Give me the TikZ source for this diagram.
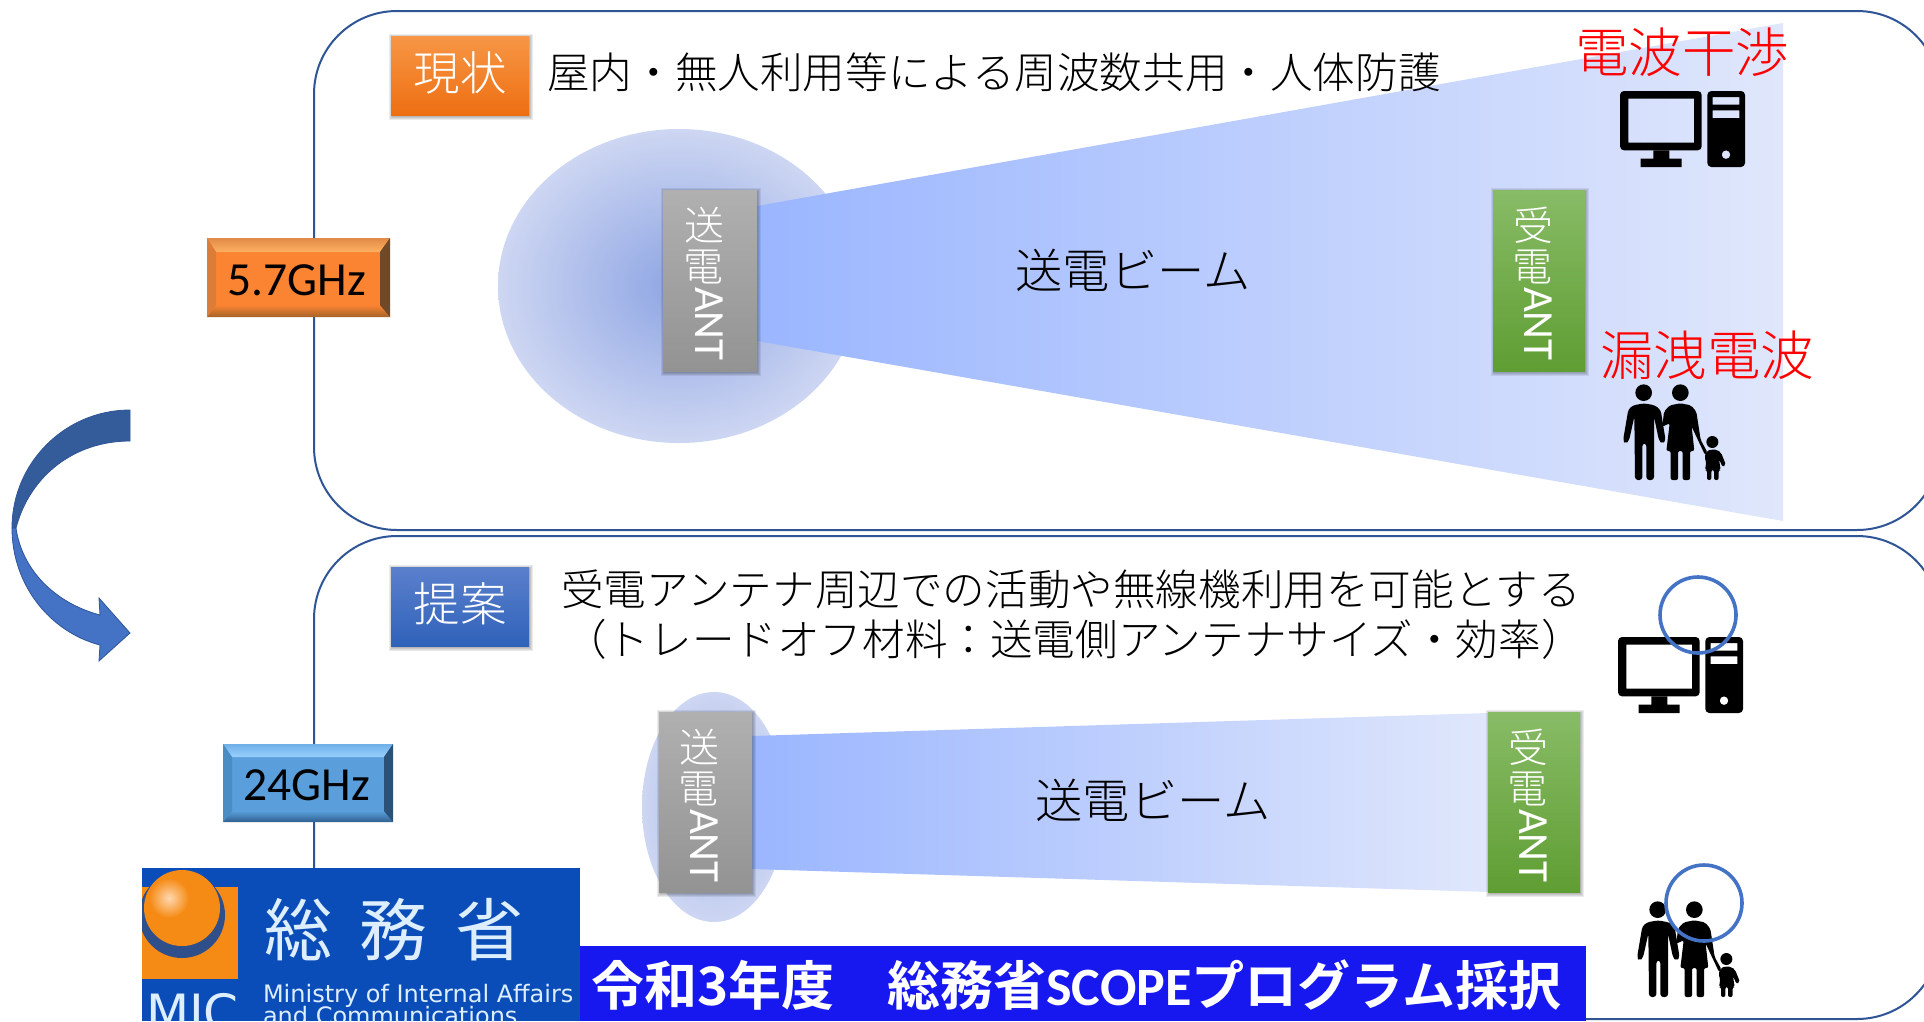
\documentclass[tikz,border=0pt]{standalone}
\usepackage{fontspec}
\setmainfont{Carlito}
\newfontfamily\jpl{Noto Sans CJK JP Light}
\newfontfamily\jpb{Noto Sans CJK JP Bold}
\newfontfamily\jpr{Noto Sans CJK JP}
\newfontfamily\logofont{DejaVu Sans}
\newcommand\fsz[1]{\fontsize{#1}{#1}\selectfont}
\newcommand\upr[1]{\makebox[41pt][c]{\raisebox{-6pt}{\rotatebox[origin=c]{90}{#1}}}}
\newcommand\anttext[1]{\jpl\fsz{40}\upr{#1}\upr{電}\rmfamily\fsz{43}ANT}
\newcommand\softshadow[4]{%
  \foreach \d in {1,2,3,4}{\fill[black,opacity=.08] (#1+2-\d,#2+2-\d) rectangle (#3+\d,#4+1+\d);}}
\definecolor{frame}{HTML}{2F5597}
\definecolor{beamL}{HTML}{9BB6FF}
\definecolor{beamR}{HTML}{E0E7FC}
\definecolor{accent}{HTML}{4472C4}
\definecolor{arrowback}{HTML}{355C9A}
\definecolor{ellA}{HTML}{8EA5E4}
\definecolor{ellB}{HTML}{CDD6F2}
\definecolor{ellC}{HTML}{A5B8EA}
\definecolor{greyA}{HTML}{B0B0B0}
\definecolor{greyB}{HTML}{939393}
\definecolor{greenA}{HTML}{88BB66}
\definecolor{greenB}{HTML}{5F9E33}
\definecolor{orA}{HTML}{F79646}
\definecolor{orB}{HTML}{EE6F12}
\definecolor{blA}{HTML}{5B80CC}
\definecolor{blB}{HTML}{2F62BA}
\definecolor{fOr}{HTML}{FB8432}
\definecolor{fOrT}{HTML}{E08A48}
\definecolor{fOrU}{HTML}{FFB060}
\definecolor{fOrD}{HTML}{A56328}
\definecolor{fOrR}{HTML}{6E4A2A}
\definecolor{fOrL}{HTML}{DB7C38}
\definecolor{fBl}{HTML}{5A9FDC}
\definecolor{fBlT}{HTML}{6FB0E8}
\definecolor{fBlU}{HTML}{99CFFF}
\definecolor{fBlD}{HTML}{2F5F8F}
\definecolor{fBlR}{HTML}{2A5278}
\definecolor{fBlL}{HTML}{4A8CC4}
\definecolor{logoB}{HTML}{0B4DB8}
\definecolor{logoO}{HTML}{F58A14}
\definecolor{logoH}{HTML}{FFD8B0}
\definecolor{logoD}{HTML}{2F4F8A}
\definecolor{logoT}{HTML}{DDEEFF}
\definecolor{strip}{HTML}{1717F0}
\tikzset{
  x=1pt,y=-1pt,
  panel/.style={draw=frame,line width=2pt,fill=white,rounded corners=83pt},
  lbl/.style={inner sep=0pt,outer sep=0pt,align=center,font=\jpl},
  redlbl/.style={lbl,text=red,font=\jpl\fsz{53.5}},
  marker/.style={draw=accent,line width=3.6pt},
  antlabel/.style={lbl,text=white,rotate=-90,anchor=base west},
  computer/.pic={
    \begin{scope}[scale=1/3]
    \fill[black,even odd rule] [rounded corners=4pt] (0,0) rectangle (245,178) [sharp corners] (25,23) rectangle (222,155);
    \fill[black] (100,178) rectangle (148,203) (62,203) rectangle (185,228);
    \fill[black,even odd rule] [rounded corners=4pt] (262,0) rectangle (375,228) [sharp corners] (278,18) rectangle (358,41) (278,58) rectangle (358,81) (318,191) circle (13);
    \end{scope}},
  family/.pic={
    \begin{scope}[scale=1/3,shift={(-232,-1052)}]
    \fill[black] (294,1078) circle (25) (404,1078) circle (25) (500,1226) circle (18);
    \fill[black,rounded corners=3pt] (295,1110) -- (262,1116) -- (248,1128) -- (232,1222) -- (240,1231) -- (250,1222) -- (266,1150) -- (268,1340) -- (290,1340) -- (290,1230) -- (302,1230) -- (302,1340) -- (325,1340) -- (325,1150) -- (340,1222) -- (350,1231) -- (360,1222) -- (345,1130) -- (328,1116) -- cycle;
    \fill[black,rounded corners=2pt] (404,1110) -- (372,1116) -- (355,1135) -- (350,1180) -- (372,1170) -- (362,1253) -- (375,1253) -- (375,1340) -- (397,1340) -- (397,1253) -- (411,1253) -- (411,1340) -- (433,1340) -- (433,1253) -- (446,1253) -- (438,1180) -- (478,1265) -- (486,1258) -- (465,1220) -- (452,1135) -- (436,1116) -- cycle;
    \fill[black,rounded corners=2pt] (500,1248) -- (484,1252) -- (476,1272) -- (482,1285) -- (478,1310) -- (484,1310) -- (484,1340) -- (497,1340) -- (497,1310) -- (505,1310) -- (505,1340) -- (519,1340) -- (519,1310) -- (525,1310) -- (520,1278) -- (531,1301) -- (541,1295) -- (526,1258) -- (515,1250) -- cycle;
    \end{scope}}
}
\begin{document}
\begin{tikzpicture}
\useasboundingbox (0,0) rectangle (1924,1021);
\clip (0,0) rectangle (1924,1021);
\fill[white] (0,0) rectangle (1924,1021);

% panels
\draw[panel] (314,11) rectangle (1940,530);
\draw[panel] (314,536) rectangle (1940,1019);

% curved arrow
\filldraw[fill=arrowback,draw=frame,line width=.8pt] (130,410) .. controls (65,410) and (12,463) .. (12,528) -- (16,528) .. controls (30,475) and (75,441) .. (130,441) -- cycle;
\filldraw[fill=accent,draw=frame,line width=.8pt] (12,528) .. controls (12,585) and (50,632) .. (100,645) -- (99,661) -- (130,633) -- (99,598) -- (100,615) .. controls (55,603) and (22,570) .. (16,528) -- cycle;

% top scene
\shade[inner color=ellA,outer color=ellB] (679,286) ellipse (181 and 157);
\shade[left color=beamL,right color=beamR] (757,206) -- (1783,23) -- (1783,521) -- (757,341) -- cycle;
\softshadow{663}{190}{757}{371}
\shade[top color=greyA,bottom color=greyB] (663,190) rectangle (757,371);
\softshadow{1493}{190}{1585}{371}
\shade[top color=greenA,bottom color=greenB] (1493,190) rectangle (1585,371);
\node[antlabel] (txant1) at (695,205) {\anttext{送}};
\node[antlabel] (rxant1) at (1524,205) {\anttext{受}};
\node[lbl,font=\jpl\fsz{47.3}] (beam1) at (1133,270) {送電ビーム};

\softshadow{391}{36}{529}{115}
\shade[top color=orA,bottom color=orB] (391,36) rectangle (529,115);
\node[lbl,text=white,font=\jpl\fsz{46.5}] (now) at (460,73) {現状};
\node[lbl,font=\jpl\fsz{42.6}] (nowtxt) at (994,72) {屋内・無人利用等による周波数共用・人体防護};
\node[redlbl] (interf) at (1682,52) {電波干渉};
\node[redlbl] (leak) at (1707,355) {漏洩電波};
\pic at (1620,91) {computer};
\pic at (1623,384) {family};

% freq labels
\fill[fOr] (207,238) rectangle (390,317);
\shade[top color=fOrT,bottom color=fOrU] (207,238) -- (390,238) -- (380,252) -- (216,252) -- cycle;
\shade[top color=fOr,bottom color=fOrD] (216,305) -- (380,305) -- (390,317) -- (207,317) -- cycle;
\fill[fOrR] (380,252) -- (390,238) -- (390,317) -- (380,305) -- cycle;
\fill[fOrL] (207,238) -- (216,252) -- (216,305) -- (207,317) -- cycle;
\node[lbl,font=\rmfamily\fsz{47.5}] (f57) at (297,280) {5.7GHz};

\fill[fBl] (223,744) rectangle (393,822);
\shade[top color=fBlT,bottom color=fBlU] (223,744) -- (393,744) -- (384,757) -- (232,757) -- cycle;
\shade[top color=fBl,bottom color=fBlD] (232,811) -- (384,811) -- (393,822) -- (223,822) -- cycle;
\fill[fBlR] (384,757) -- (393,744) -- (393,822) -- (384,811) -- cycle;
\fill[fBlL] (223,744) -- (232,757) -- (232,811) -- (223,822) -- cycle;
\node[lbl,font=\rmfamily\fsz{47.5}] (f24) at (307,785) {24GHz};

% bottom scene
\shade[inner color=ellC,outer color=ellB] (714,807) ellipse (72 and 115);
\shade[left color=beamL,right color=beamR] (752,736) -- (1488,713) -- (1488,892) -- (752,869) -- cycle;
\softshadow{659}{712}{752}{892}
\shade[top color=greyA,bottom color=greyB] (659,712) rectangle (752,892);
\softshadow{1488}{712}{1580}{892}
\shade[top color=greenA,bottom color=greenB] (1488,712) rectangle (1580,892);
\node[antlabel] (txant2) at (690,727) {\anttext{送}};
\node[antlabel] (rxant2) at (1519,727) {\anttext{受}};
\node[lbl,font=\jpl\fsz{47.3}] (beam2) at (1153,800) {送電ビーム};

\softshadow{391}{567}{529}{646}
\shade[top color=blA,bottom color=blB] (391,567) rectangle (529,646);
\node[lbl,text=white,font=\jpl\fsz{46.5}] (prop) at (460,604) {提案};
\node[lbl,font=\jpl\fsz{42.6}] (proptxt1) at (1071,589) {受電アンテナ周辺での活動や無線機利用を可能とする};
\node[lbl,font=\jpl\fsz{42.6}] (proptxt2) at (1074,639) {（トレードオフ材料：送電側アンテナサイズ・効率）};
\pic at (1618,637) {computer};
\pic at (1637,901) {family};
\draw[marker] (1698,615) circle (38);
\draw[marker] (1704,903) circle (38);

% logo
\begin{scope}
\clip (142,868) rectangle (580,1021);
\fill[logoB] (142,868) rectangle (580,1021);
\fill[logoO] (142,887) rectangle (238,979);
\fill[logoD] (182,915) circle (43);
\fill[logoO] (182,908) circle (38);
\shade[inner color=logoH,outer color=logoO] (169,898) circle (20);
\node[lbl,text=logoT,font=\jpr\fsz{68}] (mic) at (394,930) {総\hspace{28pt}務\hspace{28pt}省};
\node[lbl,text=logoT,font=\logofont\fsz{24},anchor=base west] (micen1) at (263,1002) {Ministry of Internal Affairs};
\node[lbl,text=logoT,font=\logofont\fsz{24},anchor=base west] (micen2) at (263,1024) {and Communications};
\node[lbl,text=logoT,font=\logofont\fsz{50},anchor=base west] (micab) at (146,1030) {MIC};
\end{scope}

% title strip
\fill[strip] (580,946) rectangle (1586,1021);
\node[lbl,text=white,font=\jpb\fsz{53}] (striptxt) at (1076,985) {令和3年度　総務省{\rmfamily\bfseries\fsz{54}SCOPE}プログラム採択};
\end{tikzpicture}
\end{document}
